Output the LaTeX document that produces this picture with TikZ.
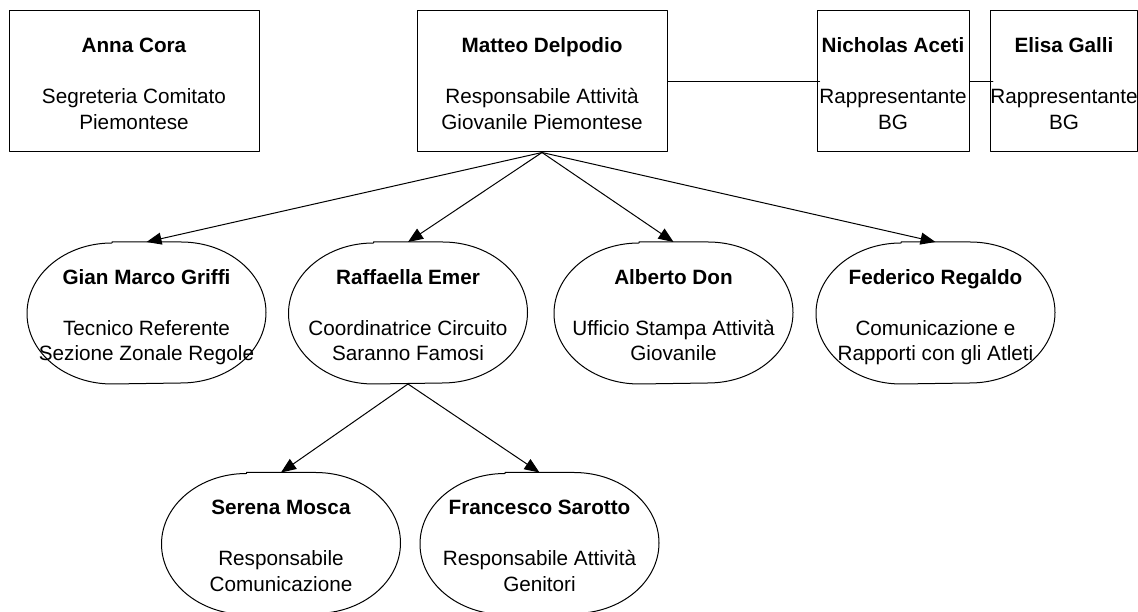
\documentclass[tikz,border=0pt]{standalone}
\usepackage{fontspec}
\setmainfont{Liberation Sans}
\usepackage{tikz}
\usetikzlibrary{arrows.meta}

\tikzset{
  person/.style={minimum height=141pt,inner sep=0pt,align=center,
    font=\fontsize{20.7}{25.5}\selectfont,text height=103pt,
    execute at begin node=\strut,execute at end node=\strut},
  staffbox/.style={person,draw,minimum width=#1},
  oval/.style={person,minimum width=238pt},
}
\newcommand{\drawoval}[1]{%
  \draw ([xshift=-34.5pt]#1.north) -- ([xshift=34.5pt]#1.north)
    arc[start angle=90,end angle=-90,x radius=85pt,y radius=70.5pt]
    -- ([xshift=-34.5pt]#1.south)
    arc[start angle=270,end angle=90,x radius=85pt,y radius=70.5pt] -- cycle;}

\begin{document}
\begin{tikzpicture}[line cap=round,line join=round,>={Triangle[length=15pt,width=12pt]},x=1pt,y=1pt,line width=1pt]
	\useasboundingbox (0,0) rectangle (1138,612);
	\node[staffbox=250pt] (anna) at (134,530.5) {\textbf{Anna Cora}\\[25.5pt]Segreteria Comitato\\Piemontese};
	\node[staffbox=250pt] (matteo) at (542,530.5) {\textbf{Matteo Delpodio}\\[25.5pt]Responsabile Attività\\Giovanile Piemontese};
	\node[staffbox=152pt] (nicholas) at (893,530.5) {\textbf{Nicholas Aceti}\\[25.5pt]Rappresentante\\BG};
	\node[staffbox=146pt] (elisa) at (1064,530.5) {\textbf{Elisa Galli}\\[25.5pt]Rappresentante\\BG};
	\node[oval] (gian) at (146.5,299) {\textbf{Gian Marco Griffi}\\[25.5pt]Tecnico Referente\\Sezione Zonale Regole};
	\node[oval] (raffaella) at (408,299) {\textbf{Raffaella Emer}\\[25.5pt]Coordinatrice Circuito\\Saranno Famosi};
	\node[oval] (alberto) at (673.5,299) {\textbf{Alberto Don}\\[25.5pt]Ufficio Stampa Attività\\Giovanile};
	\node[oval] (federico) at (935.5,299) {\textbf{Federico Regaldo}\\[25.5pt]Comunicazione e\\Rapporti con gli Atleti};
	\node[oval] (serena) at (281,68.5) {\textbf{Serena Mosca}\\[25.5pt]Responsabile\\Comunicazione};
	\node[oval] (francesco) at (539.5,68.5) {\textbf{Francesco Sarotto}\\[25.5pt]Responsabile Attività\\Genitori};
	\foreach \n in {gian,raffaella,alberto,federico,serena,francesco}
		\drawoval{\n};
	\draw [shorten >=-3pt] (matteo.east) -- (nicholas.west);
	\draw [shorten >=-3pt] (nicholas.east) -- (elisa.west);
	\foreach \n in {gian,raffaella,alberto,federico}
		\draw [->] (matteo.south) -- (\n.north);
	\draw [->] (raffaella.south) -- (serena.north);
	\draw [->] (raffaella.south) -- (francesco.north);
\end{tikzpicture}
\end{document}
